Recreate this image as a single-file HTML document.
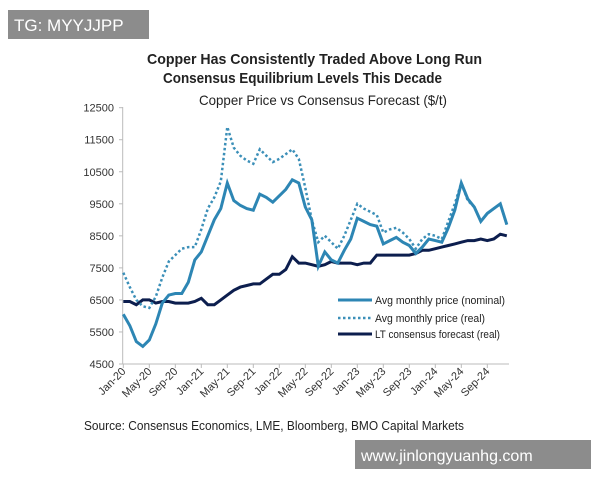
<!DOCTYPE html>
<html><head><meta charset="utf-8"><style>
body{margin:0;background:#fff;width:600px;height:480px;overflow:hidden;font-family:"Liberation Sans",sans-serif}
</style></head><body>
<svg width="600" height="480" xmlns="http://www.w3.org/2000/svg" font-family="Liberation Sans, sans-serif">
<rect x="8" y="10" width="141" height="29" fill="#8c8c8c"/>
<text x="14" y="31" font-size="17" fill="#fff">TG: MYYJJPP</text>
<text x="147" y="64" font-size="15" font-weight="bold" fill="#222" textLength="335" lengthAdjust="spacingAndGlyphs">Copper Has Consistently Traded Above Long Run</text>
<text x="163" y="83" font-size="15" font-weight="bold" fill="#222" textLength="279" lengthAdjust="spacingAndGlyphs">Consensus Equilibrium Levels This Decade</text>
<text x="199" y="105" font-size="14" fill="#222" textLength="248" lengthAdjust="spacingAndGlyphs">Copper Price vs Consensus Forecast ($/t)</text>
<g id="axes" stroke="#bbb" stroke-width="1" fill="none"></g>
<g id="ylab" font-size="11" fill="#333" text-anchor="end"></g>
<g id="xlab" font-size="11" fill="#333"></g>
<polyline id="lt" fill="none" stroke="#0c1e4e" stroke-width="3"/>
<polyline id="real" fill="none" stroke="#3b8fb8" stroke-width="2.5" stroke-dasharray="2.5,2.5"/>
<polyline id="nom" fill="none" stroke="#2d86b4" stroke-width="3"/>
<line x1="338" y1="300" x2="372" y2="300" stroke="#2d86b4" stroke-width="3"/>
<text x="375" y="304" font-size="11" fill="#222" textLength="130" lengthAdjust="spacingAndGlyphs">Avg monthly price (nominal)</text>
<line x1="338" y1="318" x2="372" y2="318" stroke="#3b8fb8" stroke-width="2.5" stroke-dasharray="2.5,2.5"/>
<text x="375" y="322" font-size="11" fill="#222" textLength="110" lengthAdjust="spacingAndGlyphs">Avg monthly price (real)</text>
<line x1="338" y1="334" x2="372" y2="334" stroke="#0c1e4e" stroke-width="3"/>
<text x="375" y="338" font-size="11" fill="#222" textLength="125" lengthAdjust="spacingAndGlyphs">LT consensus forecast (real)</text>
<text x="84" y="430" font-size="13" fill="#222" textLength="380" lengthAdjust="spacingAndGlyphs">Source: Consensus Economics, LME, Bloomberg, BMO Capital Markets</text>
<rect x="355" y="440" width="236" height="29" fill="#8c8c8c"/>
<text x="361" y="461" font-size="16" fill="#fff">www.jinlongyuanhg.com</text>
</svg>
<script>
var nom=[6050,5700,5200,5050,5250,5750,6400,6650,6700,6700,7050,7750,8000,8500,9000,9350,10150,9600,9450,9350,9300,9800,9700,9550,9750,9950,10250,10150,9400,9000,7550,8000,7750,7650,8050,8400,9050,8950,8850,8800,8250,8350,8450,8300,8200,7950,8150,8400,8350,8300,8750,9300,10150,9650,9400,8950,9200,9350,9500,8850];
var real=[7350,6900,6500,6300,6250,6600,7200,7700,7900,8100,8150,8150,8700,9350,9700,10200,11900,11250,11000,10850,10750,11200,11000,10800,10900,11050,11200,10900,10000,9000,8300,8500,8300,8100,8500,9000,9500,9350,9250,9150,8600,8700,8750,8600,8400,8100,8400,8550,8500,8400,8950,9500,10150,9600,9400,8950,9200,9350,9500,8850];
var lt=[6450,6450,6350,6500,6500,6400,6450,6450,6400,6400,6400,6450,6550,6350,6350,6500,6650,6800,6900,6950,7000,7000,7150,7300,7300,7450,7850,7650,7650,7600,7550,7600,7700,7650,7650,7650,7600,7650,7650,7900,7900,7900,7900,7900,7900,7950,8050,8050,8100,8150,8200,8250,8300,8350,8350,8400,8350,8400,8550,8500];
function X(i){return 123.3+i*6.5}function Y(v){return 364-(v-4500)*0.03204}
function pts(a){return a.map(function(v,i){return X(i).toFixed(1)+","+Y(v).toFixed(1)}).join(" ")}
document.getElementById("nom").setAttribute("points",pts(nom));
document.getElementById("real").setAttribute("points",pts(real));
document.getElementById("lt").setAttribute("points",pts(lt));
var ns="http://www.w3.org/2000/svg",ax=document.getElementById("axes"),yl=document.getElementById("ylab"),xl=document.getElementById("xlab");
function el(p,t,a,txt){var e=document.createElementNS(ns,t);for(var k in a)e.setAttribute(k,a[k]);if(txt)e.textContent=txt;p.appendChild(e);}
el(ax,"line",{x1:122.7,y1:107,x2:122.7,y2:364});el(ax,"line",{x1:122.7,y1:364,x2:509,y2:364});
for(var v=4500;v<=12500;v+=1000){el(ax,"line",{x1:119,y1:Y(v),x2:122.7,y2:Y(v)});el(yl,"text",{x:114,y:Y(v)+4},""+v);}
var m=["Jan-20","May-20","Sep-20","Jan-21","May-21","Sep-21","Jan-22","May-22","Sep-22","Jan-23","May-23","Sep-23","Jan-24","May-24","Sep-24"];
for(var i=0;i<15;i++){var x=X(i*4);el(ax,"line",{x1:x,y1:364,x2:x,y2:368});el(xl,"text",{x:x+3,y:372,"text-anchor":"end",transform:"rotate(-45 "+(x+3)+" 372)"},m[i]);}
</script>
</body></html>
